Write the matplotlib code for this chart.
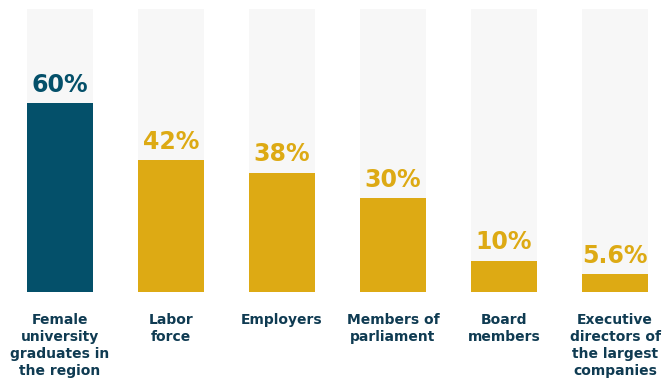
import matplotlib
matplotlib.use("Agg")
import matplotlib.pyplot as plt

categories = [
    "Female\nuniversity\ngraduates in\nthe region",
    "Labor\nforce",
    "Employers",
    "Members of\nparliament",
    "Board\nmembers",
    "Executive\ndirectors of\nthe largest\ncompanies",
]
values = [60, 42, 38, 30, 10, 5.6]
value_labels = ["60%", "42%", "38%", "30%", "10%", "5.6%"]

TEAL = "#04506A"
GOLD = "#DDAA14"
TEXT = "#0F3B52"
TRACK = "#F7F7F7"
bar_colors = [TEAL] + [GOLD] * 5
track_top = 90

fig = plt.figure(figsize=(6.62, 3.89), dpi=100)
ax = fig.add_axes([0, 97 / 389, 1, (389 - 97 - 9) / 389])
x = list(range(len(categories)))
width = 0.6

ax.bar(x, [track_top] * len(x), width=width, color=TRACK, zorder=1)
ax.bar(x, values, width=width, color=bar_colors, zorder=2)

for i, (v, lab, c) in enumerate(zip(values, value_labels, bar_colors)):
    ax.annotate(lab, xy=(i, v), xytext=(0, 8), textcoords="offset points",
                ha="center", va="baseline", fontsize=17, fontweight="bold",
                color=c, family="DejaVu Sans")

for i, cat in enumerate(categories):
    ax.annotate(cat, xy=(i, 0), xytext=(0, -15), textcoords="offset points",
                ha="center", va="top", fontsize=10, fontweight="bold",
                color=TEXT, linespacing=1.28, family="DejaVu Sans",
                annotation_clip=False)

ax.set_xlim(-60 / 111, (662 - 60) / 111)
ax.set_ylim(0, track_top)
ax.axis("off")

fig.savefig("out.png", dpi=100)
